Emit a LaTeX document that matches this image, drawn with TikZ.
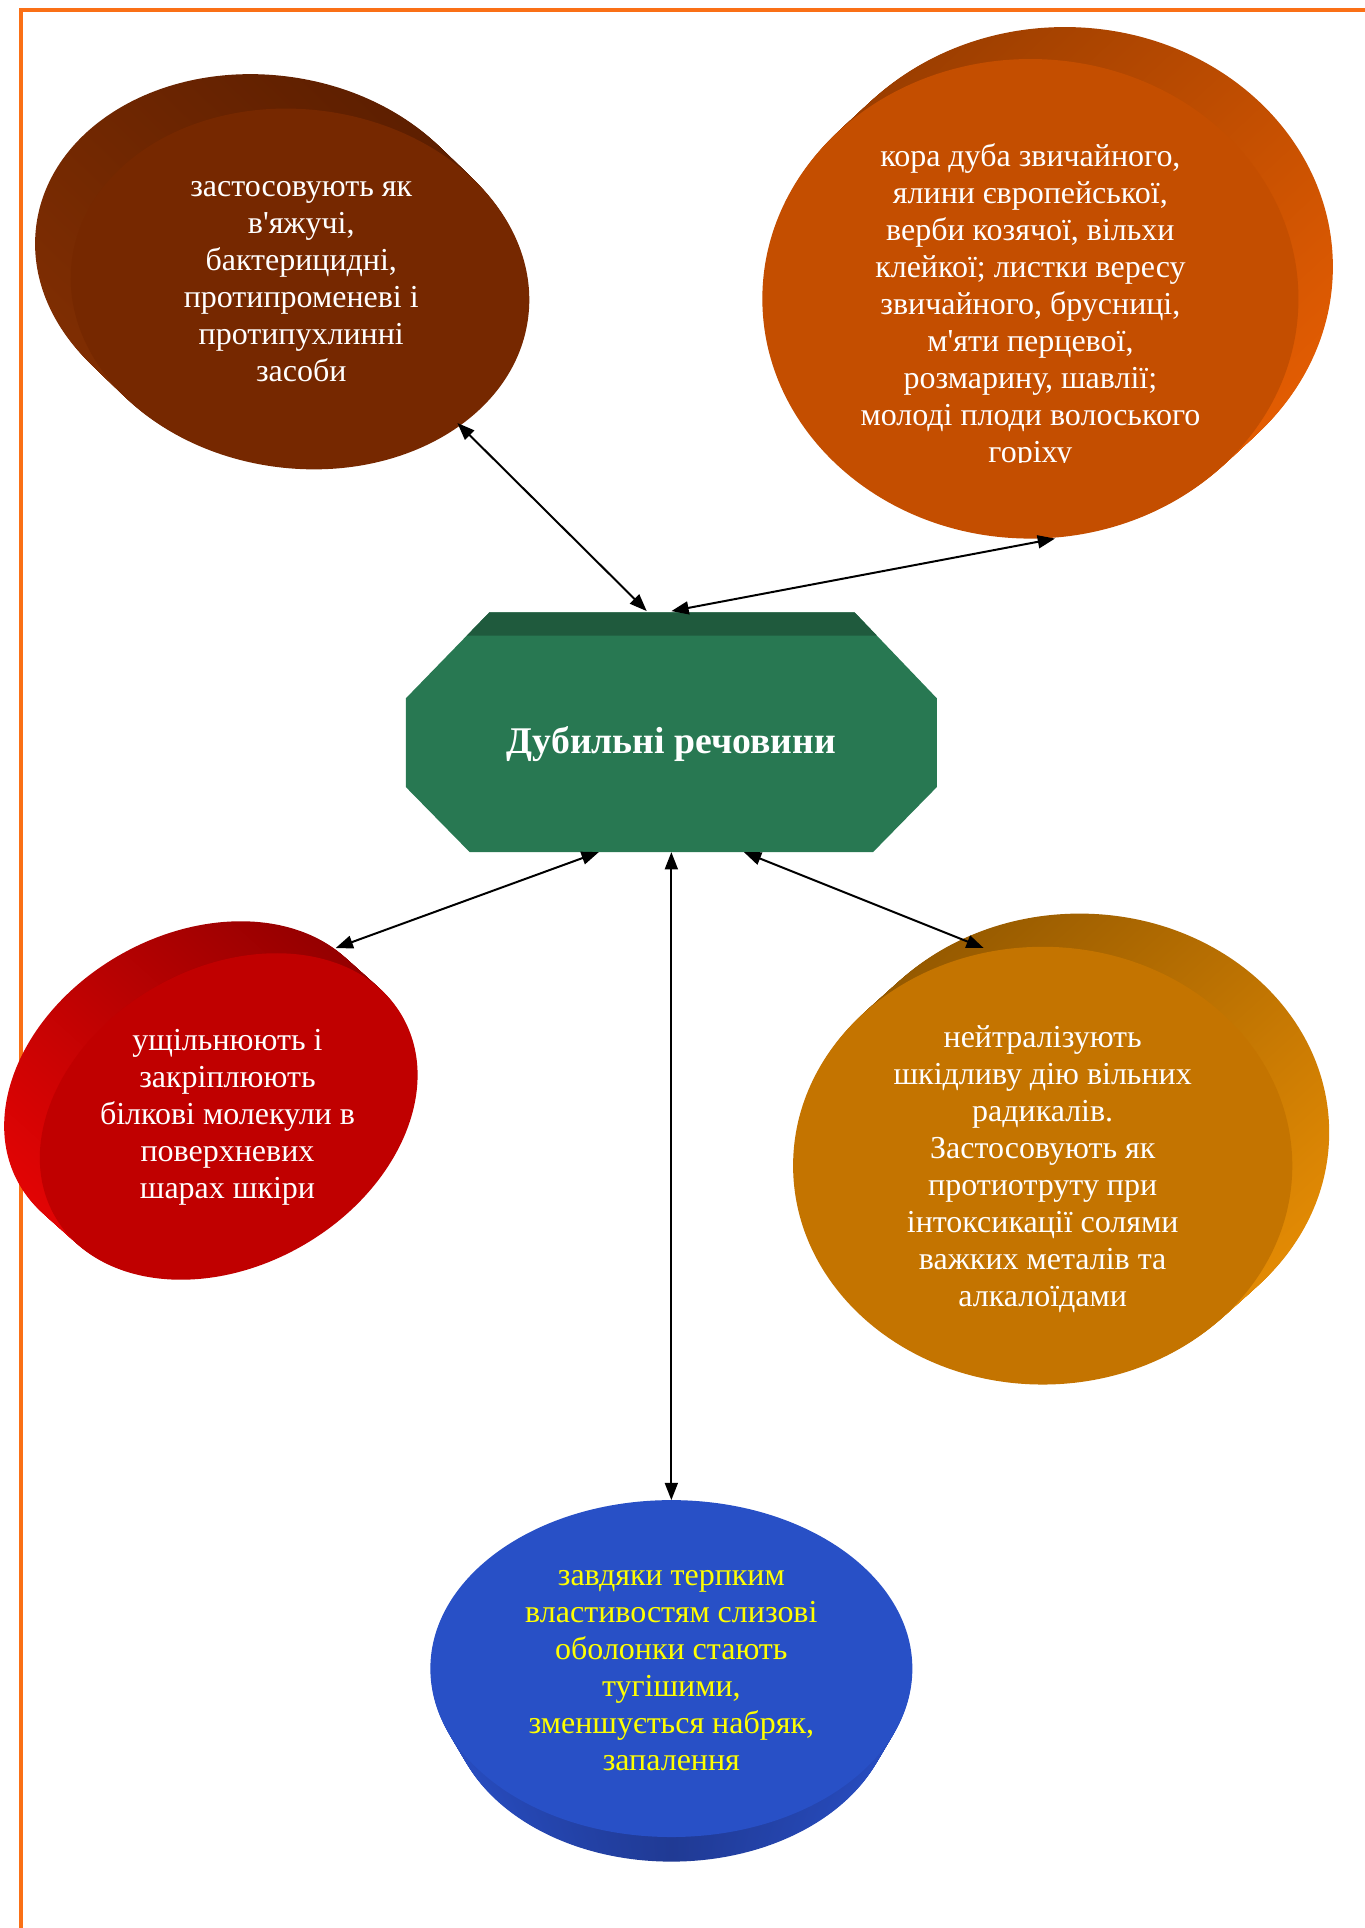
\documentclass[tikz,border=0pt]{standalone}
\usepackage{fontspec}
\setmainfont{Liberation Serif}[Ligatures=TeXOff]
\usetikzlibrary{arrows.meta}

% palette
\definecolor{frameOrange}{RGB}{250,112,22}
\definecolor{brownFace}{RGB}{118,40,0}
\definecolor{brownDark}{RGB}{92,30,0}
\definecolor{brownLight}{RGB}{128,46,2}
\definecolor{rustFace}{RGB}{196,78,0}
\definecolor{rustDark}{RGB}{156,62,0}
\definecolor{rustLight}{RGB}{226,92,2}
\definecolor{redFace}{RGB}{192,0,0}
\definecolor{redDark}{RGB}{150,0,0}
\definecolor{redLight}{RGB}{226,4,4}
\definecolor{amberFace}{RGB}{196,116,0}
\definecolor{amberDark}{RGB}{150,90,0}
\definecolor{amberLight}{RGB}{226,138,4}
\definecolor{blueFace}{RGB}{40,80,198}
\definecolor{blueDark}{RGB}{32,58,148}
\definecolor{blueLight}{RGB}{40,78,196}
\definecolor{hubFace}{RGB}{40,120,82}
\definecolor{hubBand}{RGB}{31,90,61}

\tikzset{
  frameline/.style={draw=frameOrange, line width=2.2pt},
  bubbletext/.style={align=center, text=white, inner sep=0pt,
    font=\fontsize{18.5}{21.4}\selectfont},
  hubtext/.style={text=white, inner sep=0pt,
    font=\fontsize{21.8}{26}\selectfont\bfseries},
  link/.style={line width=1.15pt,
    {Triangle[length=10pt,width=7.5pt]}-{Triangle[length=10pt,width=7.5pt]}},
}

\begin{document}
\begin{tikzpicture}[x=0.025cm, y=-0.025cm]
\useasboundingbox (0,0) rectangle (1110,1568);
\fill[white] (0,0) rectangle (1110,1568);

% page frame (only top and left edges fall inside)
\draw[frameline] (17,1580) -- (17,8) -- (1120,8);

% ---- brown disk, extruded toward upper left ----
\foreach \t in {30,29,...,1}{
  \path[top color=brownDark, bottom color=brownLight, shading angle=-45]
    ({244-29*\t/30},{235-28*\t/30}) circle[x radius=187, y radius=146, rotate=-7];
}
\fill[brownFace] (244,235) circle[x radius=187, y radius=146, rotate=-7];
\node[bubbletext] (brownTxt) at (245,229)
  {застосовують як\\в'яжучі,\\бактерицидні,\\протипроменеві і\\протипухлинні\\засоби};

% ---- rust disk, extruded toward upper right ----
\foreach \t in {30,29,...,1}{
  \path[top color=rustDark, bottom color=rustLight, shading angle=45]
    ({838+28*\t/30},{243-26*\t/30}) circle[x radius=218, y radius=195];
}
\fill[rustFace] (838,243) circle[x radius=218, y radius=195];
\begin{scope}
  \clip (600,90) rectangle (1080,376);
  \node[bubbletext] (rustTxt) at (838,249)
    {кора дуба звичайного,\\ялини європейської,\\верби козячої, вільхи\\клейкої; листки вересу\\звичайного, брусниці,\\м'яти перцевої,\\розмарину, шавлії;\\молоді плоди волоського\\горіху};
\end{scope}

% ---- red disk, tilted, extruded toward upper left ----
\foreach \t in {30,29,...,1}{
  \path[top color=redDark, bottom color=redLight, shading angle=-45]
    ({186-29*\t/30},{908-26*\t/30}) circle[x radius=163, y radius=121, rotate=30];
}
\fill[redFace] (186,908) circle[x radius=163, y radius=121, rotate=30];
\node[bubbletext] (redTxt) at (185,909)
  {ущільнюють і\\закріплюють\\білкові молекули в\\поверхневих\\шарах шкіри};

% ---- amber disk, extruded toward upper right ----
\foreach \t in {30,29,...,1}{
  \path[top color=amberDark, bottom color=amberLight, shading angle=45]
    ({848+30*\t/30},{948-27*\t/30}) circle[x radius=203, y radius=178];
}
\fill[amberFace] (848,948) circle[x radius=203, y radius=178];
\node[bubbletext] (amberTxt) at (848,951)
  {нейтралізують\\шкідливу дію вільних\\радикалів.\\Застосовують як\\протиотруту при\\інтоксикації солями\\важких металів та\\алкалоїдами};

% ---- blue disk, extruded downward ----
\foreach \t in {30,29,...,1}{
  \path[left color=blueLight, right color=blueLight, middle color=blueDark]
    (546,{1357+28*\t/30}) circle[x radius={196-16*\t/30}, y radius={137-8*\t/30}];
}
\fill[blueFace] (546,1357) circle[x radius=196, y radius=137];
\node[bubbletext, text={rgb,255:red,255;green,255;blue,0}] (blueTxt) at (546,1359)
  {завдяки терпким\\властивостям слизові\\оболонки стають\\тугішими,\\зменшується набряк,\\запалення};

% ---- central octagon ----
\fill[hubFace] (398,498) -- (695,498) -- (762,568) -- (762,640) -- (710,693)
  -- (382,693) -- (330,640) -- (330,568) -- cycle;
\begin{scope}
  \clip (398,498) -- (695,498) -- (762,568) -- (762,640) -- (710,693)
    -- (382,693) -- (330,640) -- (330,568) -- cycle;
  \fill[hubBand] (300,490) -- (800,490) -- (800,517) -- (745,517) -- (300,517) -- cycle;
\end{scope}
\node[hubtext] (hub) at (546,605) {Дубильні речовини};

% ---- connection points ----
\coordinate (brownPort) at (372,344);
\coordinate (hubTopL)   at (526,497);
\coordinate (rustPort)  at (858,438);
\coordinate (hubTopM)   at (546,497);
\coordinate (hubBotL)   at (487,693);
\coordinate (redPort)   at (273,771);
\coordinate (hubBotM)   at (546,693);
\coordinate (bluePort)  at (546,1220);
\coordinate (hubBotR)   at (605,693);
\coordinate (amberPort) at (800,771);

% ---- connectors ----
\draw[link] (brownPort) -- (hubTopL);
\draw[link] (rustPort) -- (hubTopM);
\draw[link] (hubBotL) -- (redPort);
\draw[link] (hubBotM) -- (bluePort);
\draw[link] (hubBotR) -- (amberPort);
\end{tikzpicture}
\end{document}
